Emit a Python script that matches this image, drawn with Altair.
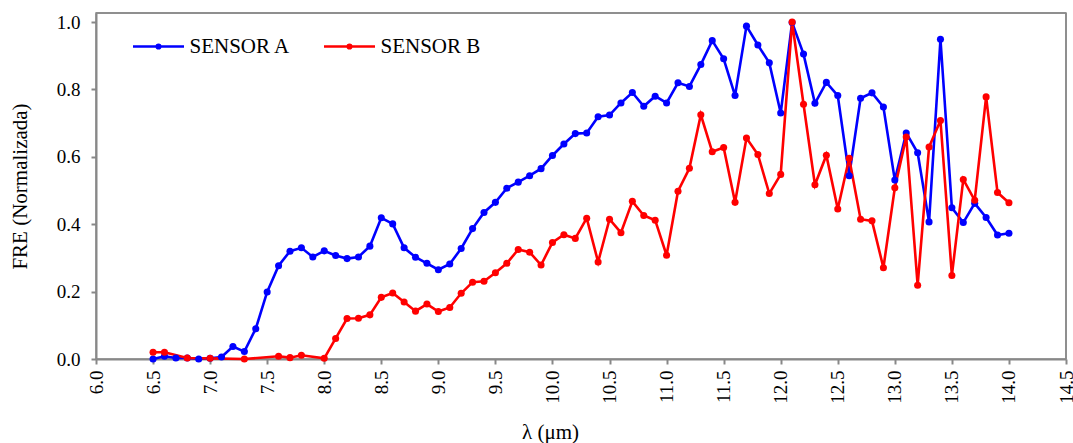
import altair as alt
import pandas as pd

# ---- data ----
wl_a = [6.5, 6.6, 6.7, 6.8, 6.9, 7.0, 7.1, 7.2, 7.3, 7.4, 7.5, 7.6, 7.7, 7.8, 7.9,
        8.0, 8.1, 8.2, 8.3, 8.4, 8.5, 8.6, 8.7, 8.8, 8.9, 9.0, 9.1, 9.2, 9.3, 9.4,
        9.5, 9.6, 9.7, 9.8, 9.9, 10.0, 10.1, 10.2, 10.3, 10.4, 10.5, 10.6, 10.7,
        10.8, 10.9, 11.0, 11.1, 11.2, 11.3, 11.4, 11.5, 11.6, 11.7, 11.8, 11.9,
        12.0, 12.1, 12.2, 12.3, 12.4, 12.5, 12.6, 12.7, 12.8, 12.9, 13.0, 13.1,
        13.2, 13.3, 13.4, 13.5, 13.6, 13.7, 13.8, 13.9, 14.0]
fre_a = [0.0, 0.008, 0.003, 0.003, 0.0, 0.002, 0.006, 0.037, 0.022, 0.09, 0.199,
         0.277, 0.32, 0.33, 0.303, 0.321, 0.307, 0.298, 0.303, 0.335, 0.419, 0.401,
         0.33, 0.302, 0.284, 0.265, 0.282, 0.328, 0.387, 0.435, 0.465, 0.507, 0.525,
         0.544, 0.565, 0.604, 0.638, 0.669, 0.671, 0.719, 0.724, 0.76, 0.791, 0.75,
         0.78, 0.76, 0.82, 0.809, 0.874, 0.945, 0.891, 0.782, 0.988, 0.932, 0.879,
         0.73, 0.999, 0.905, 0.759, 0.821, 0.782, 0.544, 0.774, 0.79, 0.748, 0.531,
         0.671, 0.612, 0.407, 0.949, 0.449, 0.405, 0.462, 0.42, 0.368, 0.373]

wl_b = [6.5, 6.6, 6.8, 7.0, 7.3, 7.6, 7.7, 7.8, 8.0, 8.1, 8.2, 8.3, 8.4, 8.5, 8.6,
        8.7, 8.8, 8.9, 9.0, 9.1, 9.2, 9.3, 9.4, 9.5, 9.6, 9.7, 9.8, 9.9, 10.0, 10.1,
        10.2, 10.3, 10.4, 10.5, 10.6, 10.7, 10.8, 10.9, 11.0, 11.1, 11.2, 11.3,
        11.4, 11.5, 11.6, 11.7, 11.8, 11.9, 12.0, 12.1, 12.2, 12.3, 12.4, 12.5,
        12.6, 12.7, 12.8, 12.9, 13.0, 13.1, 13.2, 13.3, 13.4, 13.5, 13.6, 13.7,
        13.8, 13.9, 14.0]
fre_b = [0.02, 0.02, 0.003, 0.002, 0.0, 0.008, 0.004, 0.011, 0.002, 0.061, 0.12,
         0.121, 0.131, 0.183, 0.196, 0.169, 0.142, 0.163, 0.141, 0.153, 0.195, 0.228,
         0.231, 0.256, 0.284, 0.325, 0.317, 0.279, 0.346, 0.369, 0.358, 0.418, 0.288,
         0.415, 0.375, 0.468, 0.426, 0.412, 0.308, 0.498, 0.566, 0.725, 0.615, 0.628,
         0.465, 0.656, 0.607, 0.491, 0.548, 1.0, 0.756, 0.517, 0.605, 0.445, 0.596,
         0.415, 0.41, 0.271, 0.508, 0.659, 0.219, 0.629, 0.708, 0.248, 0.533, 0.471,
         0.778, 0.494, 0.464]

series_names = ["SENSOR A", "SENSOR B"]
series_colors = ["#0000FF", "#FF0000"]
x_ticks = [6.0, 6.5, 7.0, 7.5, 8.0, 8.5, 9.0, 9.5, 10.0, 10.5, 11.0, 11.5, 12.0,
           12.5, 13.0, 13.5, 14.0, 14.5]
y_ticks = [0.0, 0.2, 0.4, 0.6, 0.8, 1.0]
x_range = [6.0, 14.5]
y_range = [0.0, 1.027]

df = pd.concat([
    pd.DataFrame({"wl": wl_a, "fre": fre_a, "serie": series_names[0], "ord": 0}),
    pd.DataFrame({"wl": wl_b, "fre": fre_b, "serie": series_names[1], "ord": 1}),
], ignore_index=True)
frame_df = pd.DataFrame({"edge": ["frame"]})

FONT = "Liberation Serif"
AXIS_GRAY = "#888888"

x_scale = alt.Scale(domain=x_range, nice=False, zero=False)
y_scale = alt.Scale(domain=y_range, nice=False)

x_axis = alt.Axis(
    values=x_ticks, format=".1f", labelAngle=270, title="λ (μm)",
    grid=False, tickSize=5, labelPadding=6, labelFontSize=19,
    labelFont=FONT, titleFont=FONT,
    titleFontSize=21, titleFontWeight="normal",
    titleX=454, titleY=73, titleBaseline="middle", titleAlign="center",
)
y_axis = alt.Axis(
    values=y_ticks, format=".1f", title="FRE (Normalizada)", grid=False,
    tickSize=5, labelPadding=11, labelFontSize=19,
    labelFont=FONT, titleFont=FONT,
    titleFontSize=21, titleFontWeight="normal", titleAngle=270,
    titleX=-76, titleY=173, titleBaseline="middle", titleAlign="center",
)

x_enc = alt.X("wl:Q", scale=x_scale, axis=x_axis)
y_enc = alt.Y("fre:Q", scale=y_scale, axis=y_axis)

color_scale = alt.Scale(domain=series_names, range=series_colors)

legend_path = "M-1,0L1,0M-0.07,0A0.07,0.07 0 1 1 0.07,0A0.07,0.07 0 1 1 -0.07,0Z"

lines = alt.Chart(df).mark_line(strokeWidth=2.6).encode(
    x=x_enc, y=y_enc,
    stroke=alt.Stroke(
        "serie:N", scale=color_scale,
        legend=alt.Legend(
            title=None, orient="none", direction="horizontal",
            legendX=35.5, legendY=6.5, symbolType=legend_path,
            symbolSize=2601, symbolStrokeWidth=2.6,
            labelFontSize=21, labelFont=FONT, labelOffset=4,
            columnPadding=28, padding=0, labelColor="#000000",
        ),
    ),
    detail="serie:N",
    order="wl:Q",
)

points = alt.Chart(df).mark_circle(size=50, opacity=1).encode(
    x=x_enc, y=y_enc,
    fill=alt.Fill("serie:N", scale=color_scale, legend=None),
    order="ord:Q",
)

# plot-area frame: top edge at the y-domain max, right edge at the x-domain max
frame_top = alt.Chart(frame_df).mark_rule(color=AXIS_GRAY, strokeWidth=1.5).encode(
    y=alt.YDatum(y_range[1], scale=y_scale, axis=y_axis),
)
frame_right = alt.Chart(frame_df).mark_rule(color=AXIS_GRAY, strokeWidth=1.5).encode(
    x=alt.XDatum(x_range[1], scale=x_scale, axis=x_axis),
)

chart = alt.layer(lines, points, frame_top, frame_right).properties(
    width=970, height=346,
    autosize=alt.AutoSizeParams(type="none"),
    padding={"left": 96, "top": 13, "right": 7, "bottom": 84},
    background="#FFFFFF",
).configure(
    font=FONT,
).configure_view(
    stroke=AXIS_GRAY, strokeWidth=1.5,
).configure_axis(
    labelColor="#000000", titleColor="#000000",
    domainColor=AXIS_GRAY, tickColor=AXIS_GRAY, domainWidth=2, tickWidth=2,
)

chart.save("out.html", embed_options={"renderer": "svg", "actions": False})
